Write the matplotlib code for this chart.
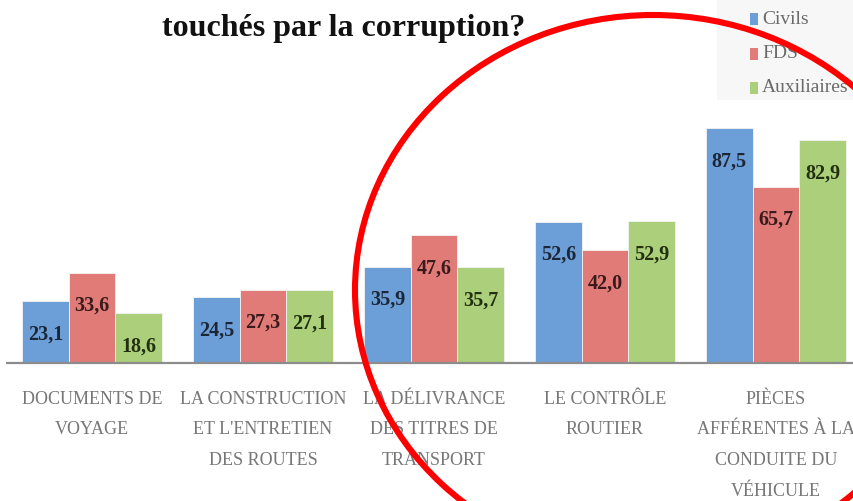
import numpy as np
import matplotlib
matplotlib.use("Agg")
import matplotlib.pyplot as plt
from matplotlib.patches import Ellipse, Rectangle

categories = ["DOCUMENTS DE\nVOYAGE",
              "LA CONSTRUCTION\nET L'ENTRETIEN\nDES ROUTES",
              "LA DÉLIVRANCE\nDES TITRES DE\nTRANSPORT",
              "LE CONTRÔLE\nROUTIER",
              "PIÈCES\nAFFÉRENTES À LA\nCONDUITE DU\nVÉHICULE"]
series = ["Civils", "FDS", "Auxiliaires"]
civils = [23.1, 24.5, 35.9, 52.6, 87.5]
fds = [33.6, 27.3, 47.6, 42.0, 65.7]
auxiliaires = [18.6, 27.1, 35.7, 52.9, 82.9]
title = "touchés par la corruption?"

colors = ["#6c9fd7", "#e07b78", "#abcf7a"]
text_colors = ["#1c2636", "#3a1a1a", "#22300f"]
W, H = 854, 501

fig = plt.figure(figsize=(W / 100, H / 100), dpi=100)
fig.patch.set_facecolor("white")

# axes: baseline at y=363px, 100 units = 268.6px
ax = fig.add_axes([6.5 / W, (H - 363) / H, 855 / W, 268.6 / H])
x = np.arange(len(categories))
bw = 0.273
for i, vals in enumerate([civils, fds, auxiliaires]):
    bars = ax.bar(x + (i - 1) * bw, vals, bw, color=colors[i],
                  edgecolor="#f4f4f4", linewidth=0.6, zorder=2)
    for b, v in zip(bars, vals):
        ax.annotate(f"{v:.1f}".replace(".", ","),
                    (b.get_x() + b.get_width() / 2, v),
                    xytext=(0, -24), textcoords="offset points",
                    ha="center", va="center", fontsize=14.5,
                    fontweight="bold", family="Liberation Serif",
                    color=text_colors[i], zorder=3)

ax.set_xlim(-0.5, 4.5)
ax.set_ylim(0, 100)
ax.set_yticks([])
ax.set_xticks(x)
ax.set_xticklabels(categories, fontsize=13, family="Liberation Serif",
                   color="#777777", linespacing=2.05)
ax.tick_params(axis="x", length=0, pad=20)
for s in ["top", "left", "right"]:
    ax.spines[s].set_visible(False)
ax.spines["bottom"].set_color("#8c8c8c")
ax.spines["bottom"].set_linewidth(1.6)
ax.set_facecolor("none")

fig.text(344 / W, 1 - 36 / H, title, ha="center", va="baseline",
         fontsize=23, fontweight="bold", family="Liberation Serif",
         color="#111111")

# legend box
fig.add_artist(Rectangle((717 / W, 1 - 100 / H), 137 / W, 100 / H,
                         transform=fig.transFigure, facecolor="#f7f7f7",
                         edgecolor="none", zorder=0))
for i, name in enumerate(series):
    yc = [19, 54, 88][i]
    fig.add_artist(Rectangle((750 / W, 1 - (yc + 6) / H), 8 / W, 12 / H,
                             transform=fig.transFigure, facecolor=colors[i],
                             edgecolor="none"))
    fig.text(762 / W, 1 - yc / H, name, ha="left", va="center",
             fontsize=14, family="Liberation Serif", color="#6a6a6a")

# red highlight circle
fig.add_artist(Ellipse((653 / W, 1 - 290 / H), 596 / W, 550 / H,
                       transform=fig.transFigure, fill=False,
                       edgecolor="#ff0000", linewidth=4.4, zorder=10))

fig.savefig("out.png", dpi=100)
